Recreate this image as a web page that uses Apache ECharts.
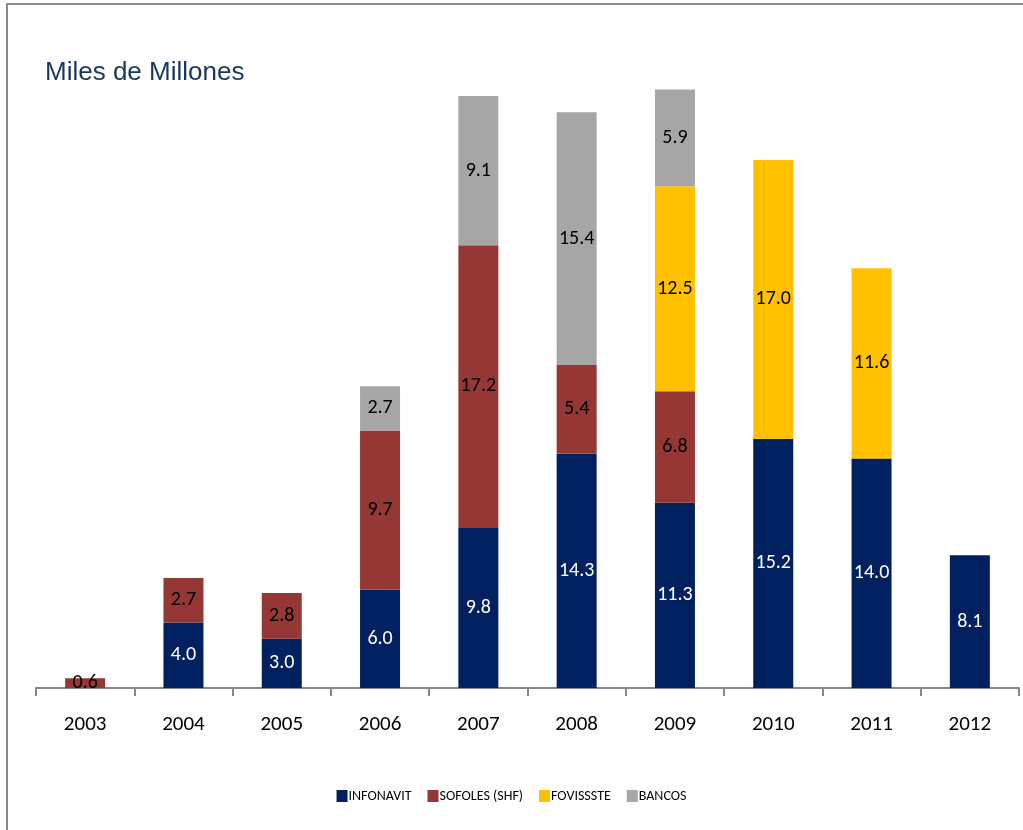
<!DOCTYPE html>
<html>
<head>
<meta charset="utf-8">
<script src="https://cdn.jsdelivr.net/npm/echarts@6/dist/echarts.min.js"></script>
<style>
html,body{margin:0;padding:0;background:#fff;}
#frame{position:absolute;left:6px;top:3px;width:1017px;height:827px;border-top:2px solid #8c8c8c;border-left:2px solid #8c8c8c;box-sizing:border-box;}
#chart{position:absolute;left:0;top:0;width:1023px;height:830px;}
</style>
</head>
<body>
<div id="frame"></div>
<div id="chart"></div>
<script>
const years = ['2003','2004','2005','2006','2007','2008','2009','2010','2011','2012'];
const infonavit = [null, 4.0, 3.0, 6.0, 9.8, 14.3, 11.3, 15.2, 14.0, 8.1];
const sofoles = [0.6, 2.7, 2.8, 9.7, 17.2, 5.4, 6.8, null, null, null];
const fovissste = [null, null, null, null, null, null, 12.5, 17.0, 11.6, null];
const bancos = [null, null, null, 2.7, 9.1, 15.4, 5.9, null, null, null];

const font = 'Carlito, "Liberation Sans Narrow", Lato, sans-serif';
function mk(name, data, color, textColor) {
  return {
    name: name, type: 'bar', stack: 'total', data: data, barWidth: 40,
    itemStyle: { color: color },
    label: { show: true, position: 'inside', color: textColor, fontSize: 20, fontFamily: font,
      formatter: p => p.value == null ? '' : Number(p.value).toFixed(1) }
  };
}
const chart = echarts.init(document.getElementById('chart'));
chart.setOption({
  animation: false,
  title: { text: 'Miles de Millones', left: 40, top: 55,
    textStyle: { color: '#17375E', fontSize: 26, fontWeight: 'normal', fontFamily: '"Liberation Sans", Arial, sans-serif' } },
  legend: { bottom: 22, left: 'center', itemWidth: 11, itemHeight: 12, itemGap: 16, icon: 'rect',
    textStyle: { fontSize: 14, fontFamily: font, color: '#000', padding: [0,0,0,-4] },
    data: ['INFONAVIT','SOFOLES (SHF)','FOVISSSTE','BANCOS'] },
  grid: { left: 36, right: 4, top: 32, bottom: 142 },
  xAxis: { type: 'category', data: years,
    axisLine: { lineStyle: { color: '#868686', width: 2 } },
    axisTick: { show: true, length: 8, lineStyle: { color: '#868686', width: 2 } },
    axisLabel: { color: '#000', fontSize: 21, fontFamily: font, margin: 26 } },
  yAxis: { type: 'value', min: 0, max: 40, show: false, splitLine: { show: false } },
  series: [
    mk('INFONAVIT', infonavit, '#002060', '#fff'),
    mk('SOFOLES (SHF)', sofoles, '#953735', '#000'),
    mk('FOVISSSTE', fovissste, '#FFC000', '#000'),
    mk('BANCOS', bancos, '#A6A6A6', '#000')
  ]
});
</script>
</body>
</html>
